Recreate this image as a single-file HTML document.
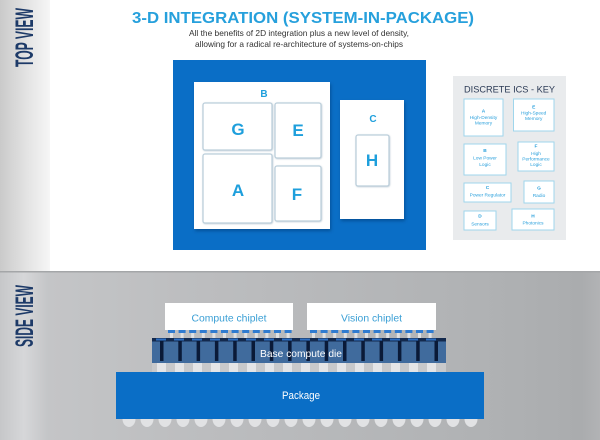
<!DOCTYPE html>
<html><head><meta charset="utf-8"><style>
html,body{margin:0;padding:0;background:#fff;}
svg{display:block;}
text{font-family:"Liberation Sans",sans-serif;}
</style></head><body>
<svg width="600" height="440" viewBox="0 0 600 440" xmlns="http://www.w3.org/2000/svg">
<defs>
<linearGradient id="lt" x1="0" x2="1" y1="0" y2="0">
<stop offset="0" stop-color="#cacaca"/><stop offset="0.6" stop-color="#e6e6e6"/><stop offset="1" stop-color="#f6f6f6"/>
</linearGradient>
<linearGradient id="gb" x1="0" x2="1" y1="0" y2="0">
<stop offset="0" stop-color="#c6c7c9"/><stop offset="0.04" stop-color="#d6d7d9"/><stop offset="0.08" stop-color="#c4c5c7"/><stop offset="0.3" stop-color="#bdbec0"/><stop offset="0.8" stop-color="#b0b2b4"/><stop offset="0.97" stop-color="#aaacae"/><stop offset="1" stop-color="#b2b3b5"/>
</linearGradient>
<filter id="sh" x="-10%" y="-10%" width="130%" height="130%"><feDropShadow dx="1" dy="2" stdDeviation="1.5" flood-color="#003a78" flood-opacity="0.6"/></filter>
<filter id="sh2" x="-10%" y="-10%" width="130%" height="130%"><feDropShadow dx="0.5" dy="0.5" stdDeviation="0.7" flood-color="#7f9aae" flood-opacity="0.5"/></filter>
</defs>

<!-- top view background -->
<rect x="0" y="0" width="50" height="271" fill="url(#lt)"/>
<text transform="translate(33,37.5) rotate(-90)" text-anchor="middle" font-size="25" font-weight="bold" fill="#1d3a68" textLength="59" lengthAdjust="spacingAndGlyphs">TOP VIEW</text>

<text x="303" y="23" text-anchor="middle" font-size="15.5" font-weight="bold" fill="#26a0dc" textLength="342" lengthAdjust="spacingAndGlyphs">3-D INTEGRATION (SYSTEM-IN-PACKAGE)</text>
<text x="299" y="36" text-anchor="middle" font-size="8.5" fill="#333" textLength="220" lengthAdjust="spacingAndGlyphs">All the benefits of 2D integration plus a new level of density,</text>
<text x="299" y="47" text-anchor="middle" font-size="8.5" fill="#333" textLength="208" lengthAdjust="spacingAndGlyphs">allowing for a radical re-architecture of systems-on-chips</text>

<!-- blue board -->
<rect x="173" y="60" width="253" height="190" fill="#0a6ec6"/>
<rect x="194" y="82" width="136" height="147" fill="#fff" filter="url(#sh)"/>
<text x="264" y="97" text-anchor="middle" font-size="10" font-weight="bold" fill="#1e9fdc">B</text>
<g fill="#fff" stroke="#bccfdb" stroke-width="1.3" filter="url(#sh2)">
<rect x="203" y="103" width="69" height="47" rx="2"/>
<rect x="275" y="103" width="46" height="55" rx="2"/>
<rect x="203" y="154" width="69" height="69" rx="2"/>
<rect x="275" y="166" width="46" height="55" rx="2"/>
</g>
<g font-size="17" font-weight="bold" fill="#1e9fdc" text-anchor="middle">
<text x="238" y="135">G</text>
<text x="298" y="136">E</text>
<text x="238" y="196">A</text>
<text x="297" y="200">F</text>
</g>
<rect x="340" y="100" width="64" height="119" fill="#fff" filter="url(#sh)"/>
<text x="373" y="122" text-anchor="middle" font-size="10" font-weight="bold" fill="#1e9fdc">C</text>
<rect x="356" y="135" width="33" height="51" rx="2" fill="#fff" stroke="#bccfdb" stroke-width="1.3" filter="url(#sh2)"/>
<text x="372" y="166" text-anchor="middle" font-size="17" font-weight="bold" fill="#1e9fdc">H</text>

<!-- key panel -->
<rect x="453" y="76" width="113" height="164" fill="#e9ebed"/>
<text x="509.5" y="92.5" text-anchor="middle" font-size="9.5" fill="#2b3a55" textLength="91" lengthAdjust="spacingAndGlyphs">DISCRETE ICS - KEY</text>
<g fill="#fff" stroke="#9fd6ec" stroke-width="1">
<rect x="464" y="99" width="39" height="37"/>
<rect x="513.5" y="99" width="40.5" height="32"/>
<rect x="464" y="144" width="42" height="31"/>
<rect x="518" y="142" width="36" height="29"/>
<rect x="464" y="183" width="47" height="19"/>
<rect x="524" y="181" width="30" height="22"/>
<rect x="464" y="211" width="32" height="19"/>
<rect x="512" y="209" width="42" height="21"/>
</g>
<g font-size="4.8" fill="#2aa0dc" text-anchor="middle">
<text x="483.5" y="112.5" font-weight="bold">A</text>
<text x="483.5" y="119">High-Density</text>
<text x="483.5" y="124.5">Memory</text>
<text x="533.7" y="108.5" font-weight="bold">E</text>
<text x="533.7" y="114.5">High-Speed</text>
<text x="533.7" y="120">Memory</text>
<text x="485" y="152" font-weight="bold">B</text>
<text x="485" y="159.5">Low Power</text>
<text x="485" y="166">Logic</text>
<text x="536" y="147.5" font-weight="bold">F</text>
<text x="536" y="155">High</text>
<text x="536" y="160.5">Performance</text>
<text x="536" y="166">Logic</text>
<text x="487.5" y="189" font-weight="bold">C</text>
<text x="487.5" y="196.5">Power Regulator</text>
<text x="539" y="189.5" font-weight="bold">G</text>
<text x="539" y="197">Radio</text>
<text x="480" y="217.5" font-weight="bold">D</text>
<text x="480" y="225.5">Sensors</text>
<text x="533" y="217.5" font-weight="bold">H</text>
<text x="533" y="224.5">Photonics</text>
</g>

<!-- side view -->
<rect x="0" y="271" width="600" height="169" fill="url(#gb)"/>
<rect x="0" y="271" width="600" height="1.5" fill="#a4a6a8"/>
<text transform="translate(33,316) rotate(-90)" text-anchor="middle" font-size="25" font-weight="bold" fill="#1d3a68" textLength="62" lengthAdjust="spacingAndGlyphs">SIDE VIEW</text>

<!-- chiplets -->
<rect x="165" y="303" width="128" height="27" fill="#fff"/>
<text x="229" y="321.5" text-anchor="middle" font-size="10.5" fill="#3a9fd5" textLength="75" lengthAdjust="spacingAndGlyphs">Compute chiplet</text>
<rect x="307" y="303" width="129" height="27" fill="#fff"/>
<text x="371.5" y="321.5" text-anchor="middle" font-size="10.5" fill="#3a9fd5" textLength="61" lengthAdjust="spacingAndGlyphs">Vision chiplet</text>

<!-- microbumps -->
<g id="mb">
<g fill="#dfe1e3">
<rect x="170" y="333" width="3" height="5"/><rect x="180.6" y="333" width="3" height="5"/><rect x="191.2" y="333" width="3" height="5"/><rect x="201.8" y="333" width="3" height="5"/><rect x="212.4" y="333" width="3" height="5"/><rect x="223" y="333" width="3" height="5"/><rect x="233.6" y="333" width="3" height="5"/><rect x="244.2" y="333" width="3" height="5"/><rect x="254.8" y="333" width="3" height="5"/><rect x="265.4" y="333" width="3" height="5"/><rect x="276" y="333" width="3" height="5"/><rect x="286.6" y="333" width="3" height="5"/>
<rect x="312" y="333" width="3" height="5"/><rect x="322.6" y="333" width="3" height="5"/><rect x="333.2" y="333" width="3" height="5"/><rect x="343.8" y="333" width="3" height="5"/><rect x="354.4" y="333" width="3" height="5"/><rect x="365" y="333" width="3" height="5"/><rect x="375.6" y="333" width="3" height="5"/><rect x="386.2" y="333" width="3" height="5"/><rect x="396.8" y="333" width="3" height="5"/><rect x="407.4" y="333" width="3" height="5"/><rect x="418" y="333" width="3" height="5"/><rect x="428.6" y="333" width="3" height="5"/>
</g>
<g fill="#2f7bd0">
<rect x="168" y="330" width="7" height="3"/><rect x="178.6" y="330" width="7" height="3"/><rect x="189.2" y="330" width="7" height="3"/><rect x="199.8" y="330" width="7" height="3"/><rect x="210.4" y="330" width="7" height="3"/><rect x="221" y="330" width="7" height="3"/><rect x="231.6" y="330" width="7" height="3"/><rect x="242.2" y="330" width="7" height="3"/><rect x="252.8" y="330" width="7" height="3"/><rect x="263.4" y="330" width="7" height="3"/><rect x="274" y="330" width="7" height="3"/><rect x="284.6" y="330" width="7" height="3"/>
<rect x="310" y="330" width="7" height="3"/><rect x="320.6" y="330" width="7" height="3"/><rect x="331.2" y="330" width="7" height="3"/><rect x="341.8" y="330" width="7" height="3"/><rect x="352.4" y="330" width="7" height="3"/><rect x="363" y="330" width="7" height="3"/><rect x="373.6" y="330" width="7" height="3"/><rect x="384.2" y="330" width="7" height="3"/><rect x="394.8" y="330" width="7" height="3"/><rect x="405.4" y="330" width="7" height="3"/><rect x="416" y="330" width="7" height="3"/><rect x="426.6" y="330" width="7" height="3"/>
</g>
</g>

<!-- base die -->
<rect x="152" y="338" width="294" height="25" fill="#406b9d"/>
<rect x="152" y="338" width="294" height="3.5" fill="#13294d"/>
<g fill="#2f6fc0">
<rect x="156" y="338.5" width="10" height="2"/><rect x="174" y="338.5" width="10" height="2"/><rect x="192" y="338.5" width="10" height="2"/><rect x="210" y="338.5" width="10" height="2"/><rect x="228" y="338.5" width="10" height="2"/><rect x="246" y="338.5" width="10" height="2"/><rect x="264" y="338.5" width="10" height="2"/><rect x="282" y="338.5" width="10" height="2"/><rect x="300" y="338.5" width="10" height="2"/><rect x="318" y="338.5" width="10" height="2"/><rect x="336" y="338.5" width="10" height="2"/><rect x="354" y="338.5" width="10" height="2"/><rect x="372" y="338.5" width="10" height="2"/><rect x="390" y="338.5" width="10" height="2"/><rect x="408" y="338.5" width="10" height="2"/><rect x="426" y="338.5" width="10" height="2"/>
</g>
<g fill="#0a1a38">
<rect x="160" y="341" width="3.5" height="20"/><rect x="178.3" y="341" width="3.5" height="20"/><rect x="196.6" y="341" width="3.5" height="20"/><rect x="214.9" y="341" width="3.5" height="20"/><rect x="233.2" y="341" width="3.5" height="20"/><rect x="251.5" y="341" width="3.5" height="20"/><rect x="269.8" y="341" width="3.5" height="20"/><rect x="288.1" y="341" width="3.5" height="20"/><rect x="306.4" y="341" width="3.5" height="20"/><rect x="324.7" y="341" width="3.5" height="20"/><rect x="343" y="341" width="3.5" height="20"/><rect x="361.3" y="341" width="3.5" height="20"/><rect x="379.6" y="341" width="3.5" height="20"/><rect x="397.9" y="341" width="3.5" height="20"/><rect x="416.2" y="341" width="3.5" height="20"/><rect x="434.5" y="341" width="3.5" height="20"/>
</g>
<text x="301" y="357" text-anchor="middle" font-size="10.5" fill="#fff" textLength="82" lengthAdjust="spacingAndGlyphs">Base compute die</text>

<!-- bump row -->
<rect x="152" y="363" width="294" height="9" fill="#c8c9cb"/>
<g fill="#e4e5e7">
<rect x="157" y="363" width="9" height="9"/><rect x="175" y="363" width="9" height="9"/><rect x="193" y="363" width="9" height="9"/><rect x="211" y="363" width="9" height="9"/><rect x="229" y="363" width="9" height="9"/><rect x="247" y="363" width="9" height="9"/><rect x="265" y="363" width="9" height="9"/><rect x="283" y="363" width="9" height="9"/><rect x="301" y="363" width="9" height="9"/><rect x="319" y="363" width="9" height="9"/><rect x="337" y="363" width="9" height="9"/><rect x="355" y="363" width="9" height="9"/><rect x="373" y="363" width="9" height="9"/><rect x="391" y="363" width="9" height="9"/><rect x="409" y="363" width="9" height="9"/><rect x="427" y="363" width="9" height="9"/>
</g>

<!-- package -->
<rect x="116" y="372" width="368" height="47" fill="#0a6ec6"/>
<text x="301" y="399" text-anchor="middle" font-size="11" fill="#fff" textLength="38" lengthAdjust="spacingAndGlyphs">Package</text>

<!-- balls -->
<g fill="#e1e2e4">
<path d="M122.5 419 a6.5 8 0 0 0 13 0z"/><path d="M140.5 419 a6.5 8 0 0 0 13 0z"/><path d="M158.5 419 a6.5 8 0 0 0 13 0z"/><path d="M176.5 419 a6.5 8 0 0 0 13 0z"/><path d="M194.5 419 a6.5 8 0 0 0 13 0z"/><path d="M212.5 419 a6.5 8 0 0 0 13 0z"/><path d="M230.5 419 a6.5 8 0 0 0 13 0z"/><path d="M248.5 419 a6.5 8 0 0 0 13 0z"/><path d="M266.5 419 a6.5 8 0 0 0 13 0z"/><path d="M284.5 419 a6.5 8 0 0 0 13 0z"/><path d="M302.5 419 a6.5 8 0 0 0 13 0z"/><path d="M320.5 419 a6.5 8 0 0 0 13 0z"/><path d="M338.5 419 a6.5 8 0 0 0 13 0z"/><path d="M356.5 419 a6.5 8 0 0 0 13 0z"/><path d="M374.5 419 a6.5 8 0 0 0 13 0z"/><path d="M392.5 419 a6.5 8 0 0 0 13 0z"/><path d="M410.5 419 a6.5 8 0 0 0 13 0z"/><path d="M428.5 419 a6.5 8 0 0 0 13 0z"/><path d="M446.5 419 a6.5 8 0 0 0 13 0z"/><path d="M464.5 419 a6.5 8 0 0 0 13 0z"/>
</g>
</svg>
</body></html>
